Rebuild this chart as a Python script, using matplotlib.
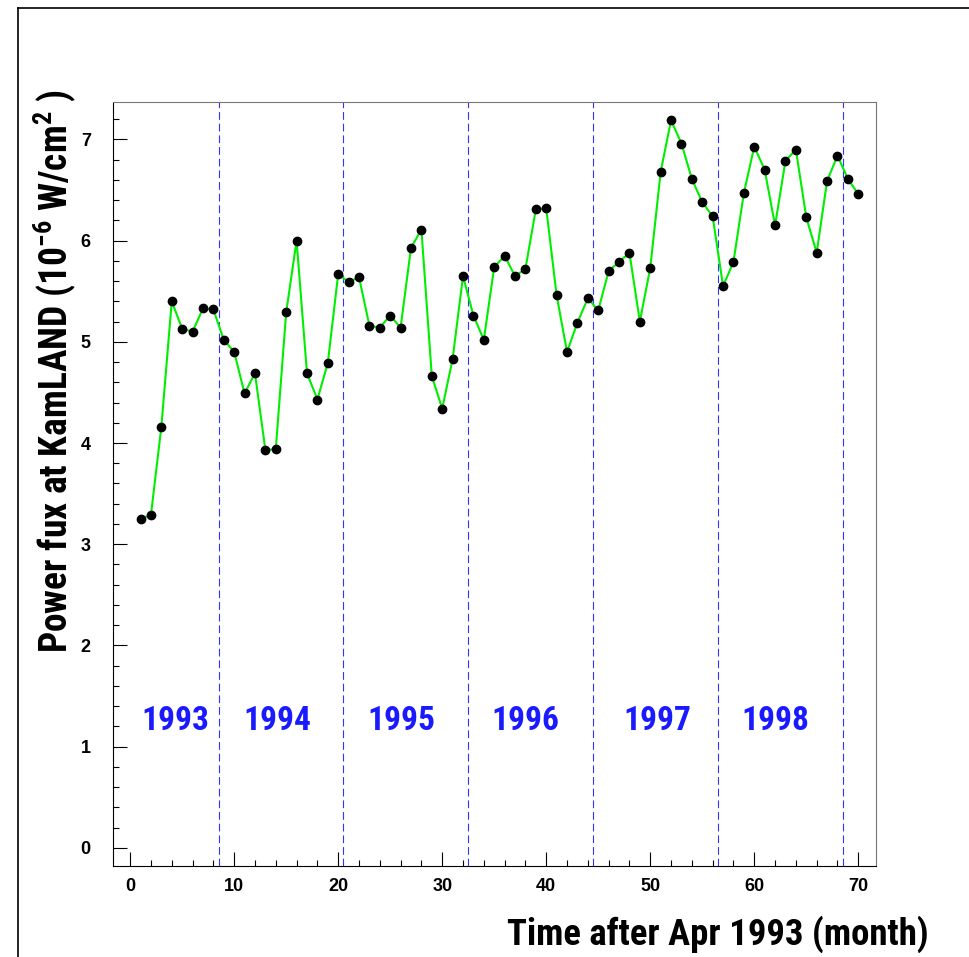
import numpy as np
import matplotlib
matplotlib.use("Agg")
from matplotlib import pyplot as plt
from matplotlib.ticker import MultipleLocator
from matplotlib.lines import Line2D

months = np.arange(1, 71)
power_flux = [3.25, 3.29, 4.16, 5.40, 5.13, 5.10, 5.33, 5.32, 5.02, 4.90,
              4.49, 4.69, 3.93, 3.94, 5.29, 6.00, 4.69, 4.43, 4.79, 5.67,
              5.59, 5.64, 5.16, 5.14, 5.26, 5.14, 5.93, 6.11, 4.66, 4.34,
              4.83, 5.65, 5.26, 5.02, 5.74, 5.85, 5.65, 5.72, 6.31, 6.32,
              5.46, 4.90, 5.19, 5.43, 5.31, 5.70, 5.79, 5.88, 5.20, 5.73,
              6.68, 7.19, 6.96, 6.61, 6.38, 6.24, 5.55, 5.79, 6.47, 6.93,
              6.70, 6.15, 6.79, 6.90, 6.23, 5.88, 6.59, 6.84, 6.61, 6.46]
year_breaks = [8.5, 20.5, 32.5, 44.5, 56.5, 68.5]
years = ["1993", "1994", "1995", "1996", "1997", "1998"]
year_label_x = [4.3, 14.1, 26.1, 38.0, 50.7, 62.0]

narrow = ["Roboto Condensed", "Archivo Narrow", "Liberation Sans", "DejaVu Sans"]
plt.rcParams["font.family"] = ["Liberation Sans", "DejaVu Sans"]
plt.rcParams["mathtext.fontset"] = "custom"
plt.rcParams["mathtext.rm"] = "Roboto Condensed:bold"
plt.rcParams["mathtext.it"] = "Roboto Condensed:bold"
plt.rcParams["mathtext.default"] = "regular"

fig = plt.figure(figsize=(9.69, 9.57), dpi=100)
ax = fig.add_axes([0.1166, 0.0951, 0.7874, 0.7983])

ax.plot(months, power_flux, color="#00ee00", lw=1.5, zorder=2)
ax.plot(months, power_flux, "o", color="black", ms=6, zorder=3)

for xb in year_breaks:
    ax.axvline(xb, color="#3333ff", lw=0.8, ls=(0, (7, 3.5)), zorder=1)

for yr, xl in zip(years, year_label_x):
    ax.text(xl, 1.25, yr, color="#1a1aff", fontsize=24, fontweight="bold",
            family=narrow, ha="center", va="center")

ax.set_xlim(-1.65, 71.7)
ax.set_ylim(-0.18, 7.37)
ax.xaxis.set_major_locator(MultipleLocator(10))
ax.xaxis.set_minor_locator(MultipleLocator(2))
ax.yaxis.set_major_locator(MultipleLocator(1))
ax.yaxis.set_minor_locator(MultipleLocator(0.2))
ax.tick_params(which="both", direction="in", top=False, right=False, width=0.8)
ax.tick_params(which="major", length=10)
ax.tick_params(which="minor", length=4.5)
ax.tick_params(axis="x", which="major", pad=9, labelsize=13)
ax.tick_params(axis="y", which="major", pad=16, labelsize=13)
for lab in ax.get_xticklabels() + ax.get_yticklabels():
    lab.set_fontweight("bold")

for side in ["top", "right"]:
    ax.spines[side].set_color("#777777")
for side in ["left", "bottom"]:
    ax.spines[side].set_color("black")

fig.text(0.958, 0.004, "Time after Apr 1993 (month)", fontsize=26.5,
         fontweight="bold", family=narrow, ha="right", va="bottom")
fig.text(0.056, 0.612, r"Power fux at KamLAND (10$^{-6}$ W/cm$^{2}$ )",
         fontsize=27, fontweight="bold", family=narrow, rotation=90,
         ha="center", va="center")

# canvas border (left and top)
fig.add_artist(Line2D([0.0186, 0.0186], [0.0, 0.9916], color="black", lw=1.2,
                      transform=fig.transFigure))
fig.add_artist(Line2D([0.0186, 1.0], [0.9916, 0.9916], color="black", lw=1.2,
                      transform=fig.transFigure))

plt.savefig("out.png", dpi=100)
plt.close()
